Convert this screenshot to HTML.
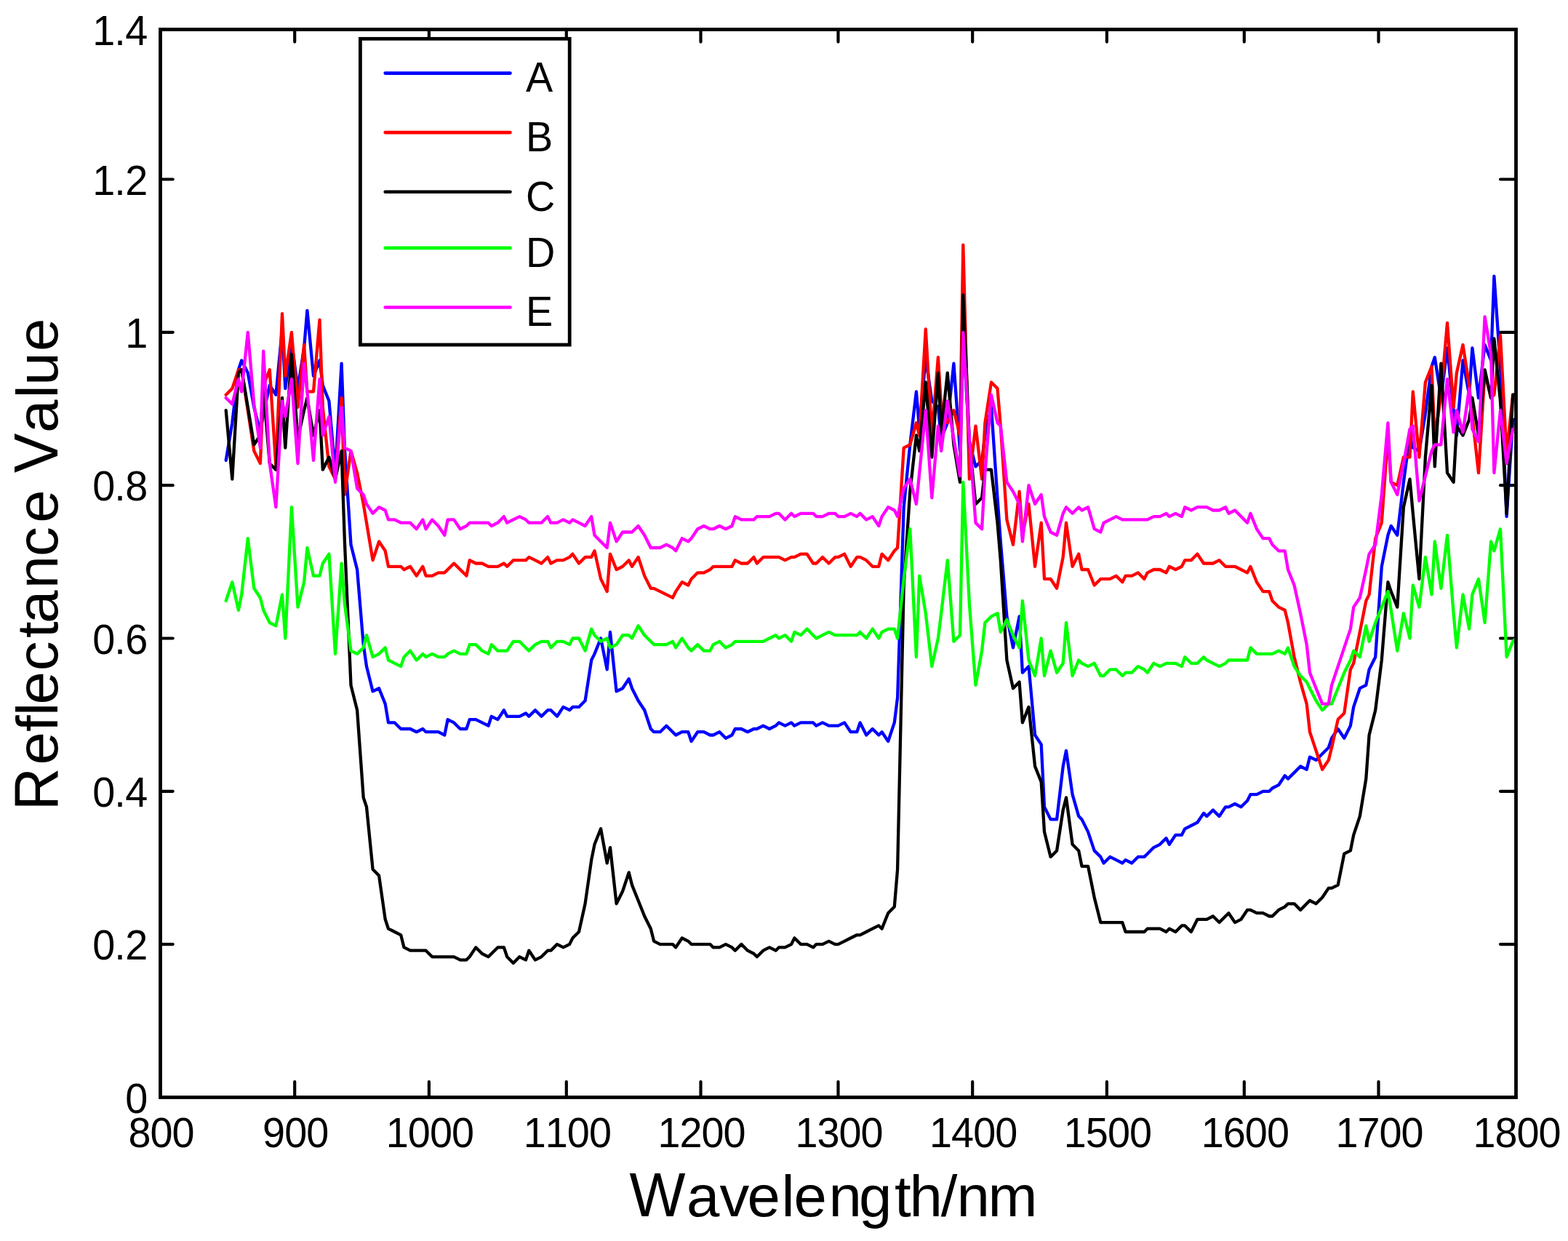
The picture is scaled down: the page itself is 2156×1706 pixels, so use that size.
<!DOCTYPE html>
<html lang="en"><head><meta charset="utf-8"><title>Reflectance Value vs Wavelength/nm</title>
<style>html,body{margin:0;padding:0;background:#fff}svg{display:block}text{font-family:"Liberation Sans",Arial,Helvetica,sans-serif;fill:#000;font-kerning:none}.t{font-size:55.8px}.l{font-size:81.6px}.c{fill:none;stroke-width:4.3;stroke-linejoin:round;stroke-linecap:round}</style></head><body>
<svg xmlns="http://www.w3.org/2000/svg" width="2156" height="1706" viewBox="0 0 2156 1706">
<rect width="2156" height="1706" fill="#fff"/>
<defs><clipPath id="pa"><rect x="220.5" y="40.5" width="1864" height="1468"/></clipPath></defs>
<path d="M405.2 1508.5V1487M405.2 40.5V57.6M589.9 1508.5V1487M589.9 40.5V57.6M778.8 1508.5V1487M778.8 40.5V57.6M963.5 1508.5V1487M963.5 40.5V57.6M1152.5 1508.5V1487M1152.5 40.5V57.6M1337.2 1508.5V1487M1337.2 40.5V57.6M1521.9 1508.5V1487M1521.9 40.5V57.6M1710.8 1508.5V1487M1710.8 40.5V57.6M1895.5 1508.5V1487M1895.5 40.5V57.6M220.5 1298.1H237.7M2084.5 1298.1H2063M220.5 1087.8H237.7M2084.5 1087.8H2063M220.5 877.5H237.7M2084.5 877.5H2063M220.5 667.2H237.7M2084.5 667.2H2063M220.5 456.8H237.7M2084.5 456.8H2063M220.5 246.5H237.7M2084.5 246.5H2063" fill="none" stroke="#000" stroke-width="4.2" stroke-linecap="round"/>
<g class="c" clip-path="url(#pa)">
<polyline stroke="#0000ff" points="310.7,632.8 319.3,581.3 327.9,508.3 332.2,495.5 340.8,512.6 349.3,559.8 357.9,594.2 362.2,568.4 370.8,529.8 379.4,542.7 388,452.5 392.3,534.1 400.9,469.7 409.5,534.1 418.1,478.3 422.4,426.8 431,516.9 439.5,495.5 443.8,529.8 452.4,551.3 461,650 469.6,499.7 473.9,615.6 482.5,748.7 491.1,783 499.7,886.1 504,916.1 512.6,950.4 521.1,946.2 529.7,967.6 534,993.4 542.6,993.4 551.2,1002 555.5,1002 564.1,1002 572.7,1006.2 581.3,1002 585.6,1006.2 594.2,1006.2 602.7,1006.2 611.3,1010.5 615.6,989.1 624.2,993.4 632.8,1002 641.4,1002 645.7,989.1 654.3,989.1 662.9,993.4 671.5,997.7 675.8,984.8 684.4,989.1 692.9,976.2 697.2,984.8 705.8,984.8 714.4,984.8 723,980.5 727.3,984.8 735.9,976.2 744.5,984.8 753.1,976.2 757.4,976.2 766,984.8 774.5,971.9 783.1,976.2 787.4,971.9 796,971.9 804.6,963.3 813.2,907.5 817.5,898.9 826.1,877.5 834.7,920.4 839,868.9 847.6,950.4 856.1,946.2 864.7,933.3 869,946.2 877.6,963.3 886.2,976.2 894.8,1002 899.1,1006.2 907.7,1006.2 916.3,997.7 924.9,1006.2 929.2,1010.5 937.8,1006.2 946.3,1006.2 950.6,1019.1 959.2,1006.2 967.8,1006.2 976.4,1010.5 980.7,1010.5 989.3,1006.2 997.9,1014.8 1006.5,1010.5 1010.8,1002 1019.4,1002 1027.9,1006.2 1036.5,1002 1040.8,1002 1049.4,997.7 1058,1002 1066.6,997.7 1070.9,993.4 1079.5,997.7 1088.1,993.4 1092.4,997.7 1101,993.4 1109.6,993.4 1118.1,993.4 1122.4,997.7 1131,993.4 1139.6,997.7 1148.2,997.7 1152.5,997.7 1161.1,993.4 1169.7,1006.2 1178.3,1006.2 1182.6,993.4 1191.2,1010.5 1199.7,1002 1208.3,1010.5 1212.6,1006.2 1221.2,1019.1 1229.8,993.4 1234.1,959 1242.7,697.2 1251.3,611.3 1259.9,538.4 1264.2,589.9 1272.8,491.2 1281.3,551.3 1289.9,559.8 1294.2,602.8 1302.8,581.3 1311.4,499.7 1320,619.9 1324.3,461.1 1332.9,607.1 1341.5,641.4 1350.1,632.8 1354.4,598.5 1363,559.8 1371.5,684.3 1375.8,744.4 1384.4,847.4 1393,890.4 1401.6,847.4 1405.9,924.7 1414.5,916.1 1423.1,1010.5 1431.7,1023.4 1436,1109.3 1444.6,1126.4 1453.1,1126.4 1461.7,1053.5 1466,1032 1474.6,1092.1 1483.2,1122.1 1487.5,1126.4 1496.1,1143.6 1504.7,1169.4 1513.3,1177.9 1517.6,1186.5 1526.2,1177.9 1534.7,1182.2 1543.3,1186.5 1547.6,1182.2 1556.2,1186.5 1564.8,1177.9 1573.4,1177.9 1577.7,1173.7 1586.3,1165.1 1594.9,1160.8 1603.5,1152.2 1607.8,1160.8 1616.4,1147.9 1624.9,1147.9 1629.2,1139.3 1637.8,1135 1646.4,1130.7 1655,1117.9 1659.3,1122.1 1667.9,1113.6 1676.5,1122.1 1685.1,1109.3 1689.4,1109.3 1698,1105 1706.5,1109.3 1715.1,1100.7 1719.4,1092.1 1728,1092.1 1736.6,1087.8 1745.2,1087.8 1749.5,1083.5 1758.1,1079.2 1766.7,1066.3 1771,1070.6 1779.6,1062.1 1788.1,1053.5 1796.7,1057.8 1801,1040.6 1809.6,1044.9 1818.2,1036.3 1826.8,1027.7 1831.1,1014.8 1839.7,1002 1848.3,1014.8 1856.9,997.7 1861.2,971.9 1869.8,946.2 1878.3,941.9 1882.6,920.4 1891.2,903.2 1899.8,778.8 1908.4,735.8 1912.7,723 1921.3,735.8 1929.9,662.9 1938.5,598.5 1942.8,615.6 1951.4,619.9 1959.9,568.4 1968.5,504 1972.8,491.2 1981.4,547 1990,478.3 1998.6,564.1 2002.9,598.5 2011.5,495.5 2020.1,542.7 2024.4,478.3 2033,547 2041.6,474 2050.1,495.5 2054.4,379.6 2063,504 2071.6,710.1 2080.2,577 2084.5,577"/>
<polyline stroke="#ff0000" points="310.7,542.7 319.3,534.1 327.9,508.3 332.2,508.3 340.8,564.1 349.3,619.9 357.9,637.1 362.2,529.8 370.8,508.3 379.4,641.4 388,431.1 392.3,516.9 400.9,456.8 409.5,559.8 418.1,474 422.4,538.4 431,538.4 439.5,439.7 443.8,559.8 452.4,641.4 461,658.6 469.6,547 473.9,680 482.5,619.9 491.1,650 499.7,692.9 504,718.7 512.6,770.2 521.1,744.4 529.7,757.3 534,778.8 542.6,778.8 551.2,778.8 555.5,783 564.1,778.8 572.7,791.6 581.3,778.8 585.6,791.6 594.2,791.6 602.7,787.3 611.3,787.3 615.6,783 624.2,774.5 632.8,783 641.4,791.6 645.7,770.2 654.3,774.5 662.9,774.5 671.5,778.8 675.8,778.8 684.4,778.8 692.9,774.5 697.2,778.8 705.8,770.2 714.4,770.2 723,770.2 727.3,765.9 735.9,770.2 744.5,774.5 753.1,765.9 757.4,774.5 766,770.2 774.5,770.2 783.1,765.9 787.4,761.6 796,774.5 804.6,765.9 813.2,765.9 817.5,757.3 826.1,795.9 834.7,813.1 839,761.6 847.6,783 856.1,778.8 864.7,770.2 869,778.8 877.6,765.9 886.2,791.6 894.8,808.8 899.1,808.8 907.7,813.1 916.3,817.4 924.9,821.7 929.2,813.1 937.8,800.2 946.3,804.5 950.6,795.9 959.2,787.3 967.8,787.3 976.4,783 980.7,778.8 989.3,778.8 997.9,778.8 1006.5,778.8 1010.8,770.2 1019.4,774.5 1027.9,774.5 1036.5,765.9 1040.8,774.5 1049.4,765.9 1058,765.9 1066.6,765.9 1070.9,765.9 1079.5,770.2 1088.1,765.9 1092.4,765.9 1101,761.6 1109.6,761.6 1118.1,774.5 1122.4,774.5 1131,765.9 1139.6,774.5 1148.2,765.9 1152.5,765.9 1161.1,761.6 1169.7,778.8 1178.3,765.9 1182.6,765.9 1191.2,770.2 1199.7,778.8 1208.3,778.8 1212.6,761.6 1221.2,770.2 1229.8,757.3 1234.1,753 1242.7,615.6 1251.3,611.3 1259.9,581.3 1264.2,598.5 1272.8,452.5 1281.3,598.5 1289.9,491.2 1294.2,559.8 1302.8,581.3 1311.4,564.1 1320,598.5 1324.3,336.6 1332.9,658.6 1341.5,585.6 1350.1,658.6 1354.4,581.3 1363,525.5 1371.5,534.1 1375.8,585.6 1384.4,714.4 1393,748.7 1401.6,675.7 1405.9,735.8 1414.5,692.9 1423.1,778.8 1431.7,718.7 1436,795.9 1444.6,795.9 1453.1,808.8 1461.7,765.9 1466,718.7 1474.6,778.8 1483.2,761.6 1487.5,783 1496.1,783 1504.7,804.5 1513.3,795.9 1517.6,795.9 1526.2,795.9 1534.7,791.6 1543.3,800.2 1547.6,791.6 1556.2,791.6 1564.8,787.3 1573.4,795.9 1577.7,787.3 1586.3,783 1594.9,783 1603.5,787.3 1607.8,778.8 1616.4,783 1624.9,778.8 1629.2,770.2 1637.8,770.2 1646.4,761.6 1655,774.5 1659.3,774.5 1667.9,774.5 1676.5,770.2 1685.1,778.8 1689.4,778.8 1698,778.8 1706.5,783 1715.1,787.3 1719.4,778.8 1728,800.2 1736.6,813.1 1745.2,813.1 1749.5,826 1758.1,834.6 1766.7,838.8 1771,856 1779.6,903.2 1788.1,937.6 1796.7,967.6 1801,1006.2 1809.6,1032 1818.2,1057.8 1826.8,1044.9 1831.1,1027.7 1839.7,989.1 1848.3,980.5 1856.9,920.4 1861.2,911.8 1869.8,868.9 1878.3,826 1882.6,817.4 1891.2,740.1 1899.8,718.7 1908.4,598.5 1912.7,662.9 1921.3,667.2 1929.9,628.5 1938.5,628.5 1942.8,538.4 1951.4,628.5 1959.9,525.5 1968.5,504 1972.8,602.8 1981.4,542.7 1990,443.9 1998.6,559.8 2002.9,512.6 2011.5,474 2020.1,529.8 2024.4,572.7 2033,650 2041.6,512.6 2050.1,547 2054.4,542.7 2063,461.1 2071.6,624.2 2080.2,542.7 2084.5,542.7"/>
<polyline stroke="#000000" points="310.7,564.1 319.3,658.6 327.9,512.6 332.2,508.3 340.8,559.8 349.3,611.3 357.9,598.5 362.2,534.1 370.8,637.1 379.4,645.7 388,547 392.3,615.6 400.9,486.9 409.5,602.8 418.1,564.1 422.4,547 431,598.5 439.5,564.1 443.8,645.7 452.4,628.5 461,658.6 469.6,619.9 473.9,744.4 482.5,941.9 491.1,976.2 499.7,1096.4 504,1109.3 512.6,1195.1 521.1,1203.7 529.7,1263.8 534,1276.7 542.6,1281 551.2,1285.3 555.5,1302.4 564.1,1306.7 572.7,1306.7 581.3,1306.7 585.6,1306.7 594.2,1315.3 602.7,1315.3 611.3,1315.3 615.6,1315.3 624.2,1315.3 632.8,1319.6 641.4,1319.6 645.7,1315.3 654.3,1302.4 662.9,1311 671.5,1315.3 675.8,1311 684.4,1302.4 692.9,1302.4 697.2,1315.3 705.8,1323.9 714.4,1315.3 723,1319.6 727.3,1306.7 735.9,1319.6 744.5,1315.3 753.1,1306.7 757.4,1306.7 766,1298.1 774.5,1302.4 783.1,1298.1 787.4,1289.5 796,1281 804.6,1242.3 813.2,1182.2 817.5,1160.8 826.1,1139.3 834.7,1186.5 839,1165.1 847.6,1242.3 856.1,1225.2 864.7,1199.4 869,1216.6 877.6,1238 886.2,1259.5 894.8,1276.7 899.1,1293.8 907.7,1298.1 916.3,1298.1 924.9,1298.1 929.2,1302.4 937.8,1289.5 946.3,1293.8 950.6,1298.1 959.2,1298.1 967.8,1298.1 976.4,1298.1 980.7,1302.4 989.3,1302.4 997.9,1298.1 1006.5,1302.4 1010.8,1306.7 1019.4,1298.1 1027.9,1306.7 1036.5,1311 1040.8,1315.3 1049.4,1306.7 1058,1302.4 1066.6,1306.7 1070.9,1302.4 1079.5,1302.4 1088.1,1298.1 1092.4,1289.5 1101,1298.1 1109.6,1298.1 1118.1,1302.4 1122.4,1298.1 1131,1298.1 1139.6,1293.8 1148.2,1298.1 1152.5,1298.1 1161.1,1293.8 1169.7,1289.5 1178.3,1285.3 1182.6,1285.3 1191.2,1281 1199.7,1276.7 1208.3,1272.4 1212.6,1276.7 1221.2,1255.2 1229.8,1246.6 1234.1,1195.1 1242.7,804.5 1251.3,675.7 1259.9,598.5 1264.2,619.9 1272.8,525.5 1281.3,628.5 1289.9,512.6 1294.2,594.2 1302.8,512.6 1311.4,611.3 1320,662.9 1324.3,405.3 1332.9,607.1 1341.5,692.9 1350.1,684.3 1354.4,645.7 1363,645.7 1371.5,718.7 1375.8,770.2 1384.4,907.5 1393,946.2 1401.6,937.6 1405.9,993.4 1414.5,971.9 1423.1,1053.5 1431.7,1074.9 1436,1143.6 1444.6,1177.9 1453.1,1169.4 1461.7,1113.6 1466,1096.4 1474.6,1160.8 1483.2,1169.4 1487.5,1190.8 1496.1,1190.8 1504.7,1233.7 1513.3,1268.1 1517.6,1268.1 1526.2,1268.1 1534.7,1268.1 1543.3,1268.1 1547.6,1281 1556.2,1281 1564.8,1281 1573.4,1281 1577.7,1276.7 1586.3,1276.7 1594.9,1276.7 1603.5,1281 1607.8,1276.7 1616.4,1281 1624.9,1272.4 1629.2,1272.4 1637.8,1281 1646.4,1263.8 1655,1263.8 1659.3,1263.8 1667.9,1259.5 1676.5,1268.1 1685.1,1259.5 1689.4,1255.2 1698,1268.1 1706.5,1263.8 1715.1,1250.9 1719.4,1250.9 1728,1255.2 1736.6,1255.2 1745.2,1259.5 1749.5,1259.5 1758.1,1250.9 1766.7,1246.6 1771,1242.3 1779.6,1242.3 1788.1,1250.9 1796.7,1242.3 1801,1238 1809.6,1242.3 1818.2,1233.7 1826.8,1220.9 1831.1,1220.9 1839.7,1216.6 1848.3,1173.7 1856.9,1169.4 1861.2,1147.9 1869.8,1122.1 1878.3,1070.6 1882.6,1010.5 1891.2,976.2 1899.8,907.5 1908.4,800.2 1912.7,813.1 1921.3,834.6 1929.9,697.2 1938.5,658.6 1942.8,705.8 1951.4,795.9 1959.9,628.5 1968.5,529.8 1972.8,641.4 1981.4,499.7 1990,650 1998.6,662.9 2002.9,585.6 2011.5,598.5 2020.1,577 2024.4,547 2033,598.5 2041.6,508.3 2050.1,547 2054.4,465.4 2063,551.3 2071.6,705.8 2080.2,542.7 2084.5,542.7"/>
<polyline stroke="#00ff00" points="310.7,826 319.3,800.2 327.9,838.8 332.2,817.4 340.8,740.1 349.3,808.8 357.9,821.7 362.2,838.8 370.8,856 379.4,860.3 388,817.4 392.3,877.5 400.9,697.2 409.5,834.6 418.1,800.2 422.4,753 431,791.6 439.5,791.6 443.8,774.5 452.4,761.6 461,898.9 469.6,774.5 473.9,830.3 482.5,894.6 491.1,898.9 499.7,890.4 504,873.2 512.6,903.2 521.1,898.9 529.7,890.4 534,907.5 542.6,911.8 551.2,916.1 555.5,903.2 564.1,894.6 572.7,907.5 581.3,898.9 585.6,903.2 594.2,898.9 602.7,903.2 611.3,903.2 615.6,898.9 624.2,894.6 632.8,898.9 641.4,898.9 645.7,886.1 654.3,886.1 662.9,894.6 671.5,898.9 675.8,886.1 684.4,894.6 692.9,894.6 697.2,894.6 705.8,881.8 714.4,881.8 723,890.4 727.3,894.6 735.9,886.1 744.5,881.8 753.1,881.8 757.4,890.4 766,881.8 774.5,881.8 783.1,886.1 787.4,877.5 796,877.5 804.6,894.6 813.2,864.6 817.5,873.2 826.1,881.8 834.7,877.5 839,890.4 847.6,886.1 856.1,873.2 864.7,873.2 869,877.5 877.6,860.3 886.2,873.2 894.8,881.8 899.1,886.1 907.7,886.1 916.3,886.1 924.9,881.8 929.2,890.4 937.8,877.5 946.3,890.4 950.6,894.6 959.2,886.1 967.8,894.6 976.4,894.6 980.7,886.1 989.3,881.8 997.9,890.4 1006.5,886.1 1010.8,881.8 1019.4,881.8 1027.9,881.8 1036.5,881.8 1040.8,881.8 1049.4,881.8 1058,877.5 1066.6,873.2 1070.9,877.5 1079.5,873.2 1088.1,881.8 1092.4,868.9 1101,873.2 1109.6,864.6 1118.1,873.2 1122.4,877.5 1131,873.2 1139.6,868.9 1148.2,873.2 1152.5,873.2 1161.1,873.2 1169.7,873.2 1178.3,873.2 1182.6,868.9 1191.2,877.5 1199.7,864.6 1208.3,877.5 1212.6,868.9 1221.2,864.6 1229.8,864.6 1234.1,877.5 1242.7,795.9 1251.3,727.2 1259.9,903.2 1264.2,791.6 1272.8,843.1 1281.3,916.1 1289.9,877.5 1294.2,843.1 1302.8,770.2 1311.4,881.8 1320,873.2 1324.3,662.9 1332.9,830.3 1341.5,941.9 1350.1,894.6 1354.4,856 1363,847.4 1371.5,843.1 1375.8,868.9 1384.4,851.7 1393,873.2 1401.6,890.4 1405.9,826 1414.5,907.5 1423.1,929 1431.7,877.5 1436,929 1444.6,894.6 1453.1,924.7 1461.7,911.8 1466,856 1474.6,929 1483.2,907.5 1487.5,911.8 1496.1,916.1 1504.7,911.8 1513.3,929 1517.6,929 1526.2,920.4 1534.7,920.4 1543.3,929 1547.6,924.7 1556.2,924.7 1564.8,916.1 1573.4,920.4 1577.7,924.7 1586.3,911.8 1594.9,916.1 1603.5,911.8 1607.8,911.8 1616.4,911.8 1624.9,916.1 1629.2,903.2 1637.8,911.8 1646.4,911.8 1655,903.2 1659.3,907.5 1667.9,911.8 1676.5,916.1 1685.1,911.8 1689.4,907.5 1698,907.5 1706.5,907.5 1715.1,907.5 1719.4,890.4 1728,898.9 1736.6,898.9 1745.2,898.9 1749.5,898.9 1758.1,894.6 1766.7,898.9 1771,890.4 1779.6,916.1 1788.1,929 1796.7,937.6 1801,946.2 1809.6,963.3 1818.2,976.2 1826.8,967.6 1831.1,967.6 1839.7,946.2 1848.3,924.7 1856.9,907.5 1861.2,894.6 1869.8,903.2 1878.3,860.3 1882.6,881.8 1891.2,856 1899.8,834.6 1908.4,813.1 1912.7,838.8 1921.3,894.6 1929.9,843.1 1938.5,877.5 1942.8,804.5 1951.4,834.6 1959.9,765.9 1968.5,817.4 1972.8,744.4 1981.4,808.8 1990,735.8 1998.6,843.1 2002.9,890.4 2011.5,817.4 2020.1,864.6 2024.4,817.4 2033,795.9 2041.6,856 2050.1,744.4 2054.4,757.3 2063,727.2 2071.6,903.2 2080.2,881.8 2084.5,877.5"/>
<polyline stroke="#ff00ff" points="310.7,547 319.3,555.5 327.9,521.2 332.2,538.4 340.8,456.8 349.3,555.5 357.9,615.6 362.2,482.6 370.8,637.1 379.4,697.2 388,551.3 392.3,572.7 400.9,521.2 409.5,637.1 418.1,499.7 422.4,538.4 431,632.8 439.5,521.2 443.8,598.5 452.4,572.7 461,662.9 469.6,559.8 473.9,615.6 482.5,619.9 491.1,671.4 499.7,680 504,692.9 512.6,705.8 521.1,697.2 529.7,701.5 534,714.4 542.6,714.4 551.2,718.7 555.5,718.7 564.1,718.7 572.7,727.2 581.3,714.4 585.6,727.2 594.2,714.4 602.7,723 611.3,735.8 615.6,714.4 624.2,714.4 632.8,727.2 641.4,723 645.7,718.7 654.3,718.7 662.9,718.7 671.5,718.7 675.8,723 684.4,718.7 692.9,710.1 697.2,718.7 705.8,714.4 714.4,710.1 723,714.4 727.3,718.7 735.9,718.7 744.5,718.7 753.1,710.1 757.4,718.7 766,718.7 774.5,714.4 783.1,718.7 787.4,714.4 796,718.7 804.6,723 813.2,710.1 817.5,735.8 826.1,744.4 834.7,753 839,718.7 847.6,744.4 856.1,731.5 864.7,731.5 869,731.5 877.6,723 886.2,735.8 894.8,753 899.1,753 907.7,753 916.3,748.7 924.9,753 929.2,757.3 937.8,740.1 946.3,744.4 950.6,740.1 959.2,727.2 967.8,723 976.4,727.2 980.7,727.2 989.3,723 997.9,727.2 1006.5,723 1010.8,710.1 1019.4,714.4 1027.9,714.4 1036.5,714.4 1040.8,710.1 1049.4,710.1 1058,710.1 1066.6,705.8 1070.9,705.8 1079.5,714.4 1088.1,705.8 1092.4,710.1 1101,705.8 1109.6,705.8 1118.1,705.8 1122.4,710.1 1131,710.1 1139.6,705.8 1148.2,705.8 1152.5,710.1 1161.1,710.1 1169.7,705.8 1178.3,710.1 1182.6,705.8 1191.2,714.4 1199.7,710.1 1208.3,723 1212.6,710.1 1221.2,697.2 1229.8,701.5 1234.1,710.1 1242.7,671.4 1251.3,658.6 1259.9,692.9 1264.2,650 1272.8,564.1 1281.3,684.3 1289.9,585.6 1294.2,619.9 1302.8,551.3 1311.4,602.8 1320,654.3 1324.3,456.8 1332.9,602.8 1341.5,718.7 1350.1,727.2 1354.4,650 1363,542.7 1371.5,581.3 1375.8,585.6 1384.4,662.9 1393,675.7 1401.6,692.9 1405.9,744.4 1414.5,667.2 1423.1,692.9 1431.7,680 1436,710.1 1444.6,731.5 1453.1,735.8 1461.7,705.8 1466,697.2 1474.6,705.8 1483.2,697.2 1487.5,701.5 1496.1,697.2 1504.7,727.2 1513.3,731.5 1517.6,718.7 1526.2,714.4 1534.7,710.1 1543.3,714.4 1547.6,714.4 1556.2,714.4 1564.8,714.4 1573.4,714.4 1577.7,714.4 1586.3,710.1 1594.9,710.1 1603.5,705.8 1607.8,710.1 1616.4,705.8 1624.9,710.1 1629.2,697.2 1637.8,701.5 1646.4,697.2 1655,697.2 1659.3,697.2 1667.9,701.5 1676.5,701.5 1685.1,697.2 1689.4,705.8 1698,701.5 1706.5,710.1 1715.1,718.7 1719.4,705.8 1728,727.2 1736.6,740.1 1745.2,740.1 1749.5,748.7 1758.1,757.3 1766.7,757.3 1771,783 1779.6,804.5 1788.1,843.1 1796.7,886.1 1801,924.7 1809.6,946.2 1818.2,967.6 1826.8,967.6 1831.1,941.9 1839.7,916.1 1848.3,890.4 1856.9,864.6 1861.2,834.6 1869.8,821.7 1878.3,783 1882.6,761.6 1891.2,748.7 1899.8,680 1908.4,581.3 1912.7,662.9 1921.3,680 1929.9,637.1 1938.5,589.9 1942.8,585.6 1951.4,688.6 1959.9,654.3 1968.5,619.9 1972.8,611.3 1981.4,611.3 1990,521.2 1998.6,594.2 2002.9,564.1 2011.5,594.2 2020.1,534.1 2024.4,589.9 2033,607.1 2041.6,435.4 2050.1,486.9 2054.4,650 2063,564.1 2071.6,637.1 2080.2,589.9 2084.5,589.9"/>
</g>
<rect x="220.5" y="40.5" width="1864" height="1468" fill="none" stroke="#000" stroke-width="4.8"/>
<rect x="495.4" y="53.3" width="287.8" height="420.7" fill="#fff" stroke="#000" stroke-width="4.8"/>
<line x1="529.7" y1="100.6" x2="701.5" y2="100.6" stroke="#0000ff" stroke-width="4.6" stroke-linecap="round"/>
<text class="t" transform="translate(723 126.4) scale(1 1.045)">A</text>
<line x1="529.7" y1="182.1" x2="701.5" y2="182.1" stroke="#ff0000" stroke-width="4.6" stroke-linecap="round"/>
<text class="t" transform="translate(723 207.9) scale(1 1.045)">B</text>
<line x1="529.7" y1="263.7" x2="701.5" y2="263.7" stroke="#000000" stroke-width="4.6" stroke-linecap="round"/>
<text class="t" transform="translate(723 289.5) scale(1 1.045)">C</text>
<line x1="529.7" y1="340.9" x2="701.5" y2="340.9" stroke="#00ff00" stroke-width="4.6" stroke-linecap="round"/>
<text class="t" transform="translate(723 366.7) scale(1 1.045)">D</text>
<line x1="529.7" y1="422.5" x2="701.5" y2="422.5" stroke="#ff00ff" stroke-width="4.6" stroke-linecap="round"/>
<text class="t" transform="translate(723 448.3) scale(1 1.045)">E</text>
<text class="t" transform="translate(0 1577.3) scale(1 1.045)" x="176.4 206.5 236.5" y="0">800</text>
<text class="t" transform="translate(0 1577.3) scale(1 1.045)" x="361.1 391.2 421.2" y="0">900</text>
<text class="t" transform="translate(0 1577.3) scale(1 1.045)" x="530.7 560.8 590.9 620.9" y="0">1000</text>
<text class="t" transform="translate(0 1577.3) scale(1 1.045)" x="719.7 749.8 779.8 809.9" y="0">1100</text>
<text class="t" transform="translate(0 1577.3) scale(1 1.045)" x="904.4 934.5 964.5 994.6" y="0">1200</text>
<text class="t" transform="translate(0 1577.3) scale(1 1.045)" x="1093.4 1123.4 1153.5 1183.6" y="0">1300</text>
<text class="t" transform="translate(0 1577.3) scale(1 1.045)" x="1278.1 1308.1 1338.2 1368.2" y="0">1400</text>
<text class="t" transform="translate(0 1577.3) scale(1 1.045)" x="1462.7 1492.8 1522.9 1552.9" y="0">1500</text>
<text class="t" transform="translate(0 1577.3) scale(1 1.045)" x="1651.7 1681.8 1711.8 1741.9" y="0">1600</text>
<text class="t" transform="translate(0 1577.3) scale(1 1.045)" x="1836.4 1866.5 1896.5 1926.6" y="0">1700</text>
<text class="t" transform="translate(0 1577.3) scale(1 1.045)" x="2025.4 2055.4 2085.5 2115.6" y="0">1800</text>
<text class="t" transform="translate(0 1529.7) scale(1 1.045)" x="172.2" y="0">0</text>
<text class="t" transform="translate(0 1319.3) scale(1 1.045)" x="127.2 157.2 172.2" y="0">0.2</text>
<text class="t" transform="translate(0 1109) scale(1 1.045)" x="127.2 157.2 172.2" y="0">0.4</text>
<text class="t" transform="translate(0 898.7) scale(1 1.045)" x="127.2 157.2 172.2" y="0">0.6</text>
<text class="t" transform="translate(0 688.4) scale(1 1.045)" x="127.2 157.2 172.2" y="0">0.8</text>
<text class="t" transform="translate(0 478) scale(1 1.045)" x="172.2" y="0">1</text>
<text class="t" transform="translate(0 267.7) scale(1 1.045)" x="127.2 157.2 172.2" y="0">1.2</text>
<text class="t" transform="translate(0 61.7) scale(1 1.045)" x="127.2 157.2 172.2" y="0">1.4</text>
<text class="l" transform="translate(0 1672.1) translate(865.6 0) scale(1 1.045)" x="0" y="0">W</text>
<text class="l" transform="translate(0 1672.1) translate(944 0) scale(1 0.985)" x="0 45.5 83.4 130.4 147.4 195.5 237.1 285.9 306.5 349.8 371.5 414.6" y="0">avelength/nm</text>
<text class="l" transform="translate(79 1114.2) rotate(-90) translate(0 0) scale(1 1.045)" x="0" y="0">R</text>
<text class="l" transform="translate(79 1114.2) rotate(-90) translate(62.7 0) scale(1 0.985)" x="0 45.4 67.6 83.1 129.3 174.6 194.6 242.2 286.5 332.7" y="0">eflectance</text>
<text class="l" transform="translate(79 1114.2) rotate(-90) translate(464.1 0) scale(1 1.045)" x="0" y="0">V</text>
<text class="l" transform="translate(79 1114.2) rotate(-90) translate(519.2 0) scale(1 0.985)" x="0 47.6 65.2 112.1" y="0">alue</text>
</svg></body></html>
